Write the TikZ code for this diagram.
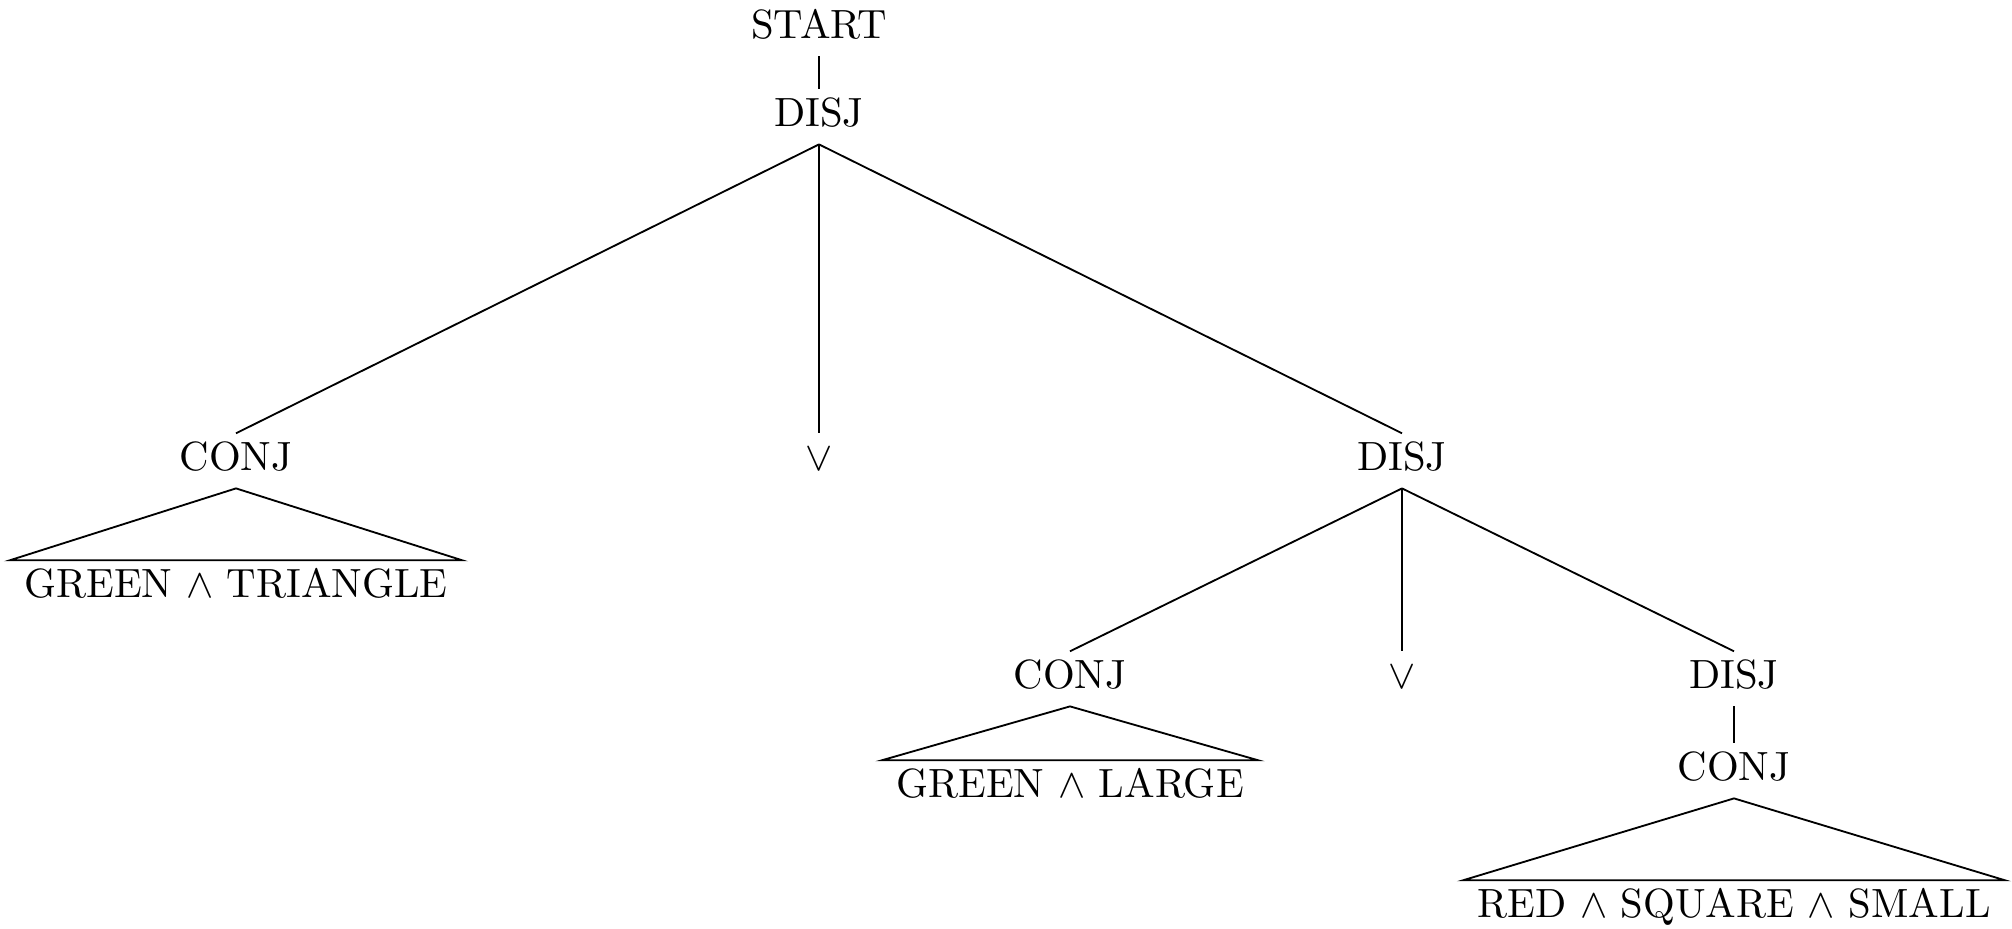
\documentclass[tikz,border=0pt]{standalone}
\begin{document}
\begin{tikzpicture}[x=0.245pt, y=-0.245pt,
  tn/.style={anchor=base, text height=7pt, text depth=2.5pt,
             inner xsep=3.33pt, inner ysep=1.8pt},
  edge/.style={line width=0.45pt}]
  \useasboundingbox (0,0) rectangle (2012,928);

  % tree nodes
  \node[tn] (start) at (819,38)  {START};
  \node[tn] (d0)    at (819,126) {DISJ};
  \node[tn] (c1)    at (236,470) {CONJ};
  \node[tn] (v1)    at (819,470) {$\vee$};
  \node[tn] (d1)    at (1402,470) {DISJ};
  \node[tn] (l1)    at (236,597) {GREEN $\wedge$ TRIANGLE};
  \node[tn] (c2)    at (1070,688) {CONJ};
  \node[tn] (v2)    at (1402,688) {$\vee$};
  \node[tn] (d2)    at (1734,688) {DISJ};
  \node[tn] (l2)    at (1070,797) {GREEN $\wedge$ LARGE};
  \node[tn] (c3)    at (1734,780) {CONJ};
  \node[tn] (l3)    at (1734,917) {RED $\wedge$ SQUARE $\wedge$ SMALL};

  % branches
  \draw[edge] (start.south) -- (d0.north);
  \draw[edge] (d0.south) -- (c1.north);
  \draw[edge] (d0.south) -- (v1.north);
  \draw[edge] (d0.south) -- (d1.north);
  \draw[edge] (d1.south) -- (c2.north);
  \draw[edge] (d1.south) -- (v2.north);
  \draw[edge] (d1.south) -- (d2.north);
  \draw[edge] (d2.south) -- (c3.north);

  % roofs over the leaf formulas
  \draw[edge] (c1.south) -- (l1.north west) -- (l1.north east) -- cycle;
  \draw[edge] (c2.south) -- (l2.north west) -- (l2.north east) -- cycle;
  \draw[edge] (c3.south) -- (l3.north west) -- (l3.north east) -- cycle;
\end{tikzpicture}
\end{document}
